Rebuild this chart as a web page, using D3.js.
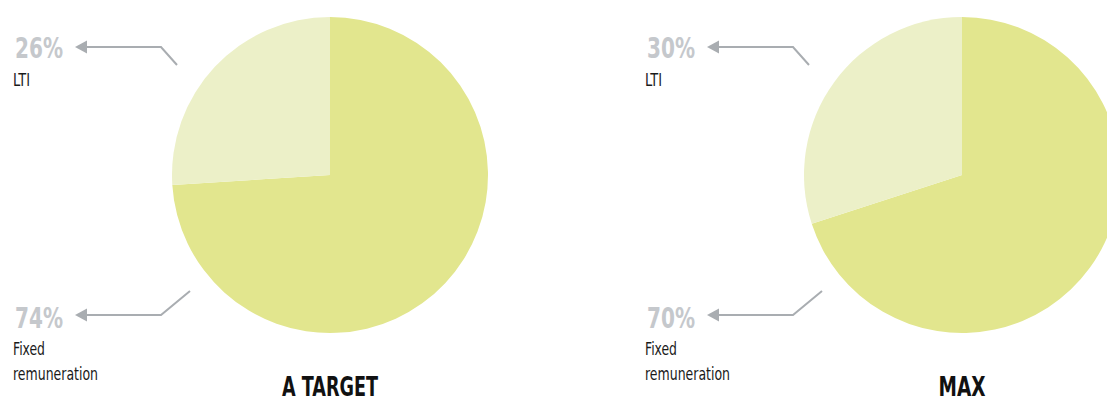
<!DOCTYPE html>
<html>
<head>
<meta charset="utf-8">
<script src="https://cdn.jsdelivr.net/npm/d3@7"></script>
<style>
  html, body { margin: 0; padding: 0; background: #ffffff; }
  svg { display: block; }
  text { font-family: "DejaVu Sans Condensed", "DejaVu Sans", sans-serif; font-stretch: condensed; }
</style>
</head>
<body>
<svg id="chart" width="1107" height="401"></svg>
<script>
// Remuneration mix per scenario
const scenarios = ["A TARGET", "MAX"];
const components = ["Fixed remuneration", "LTI"];
const fixedShare = [74, 70];
const ltiShare = [26, 30];
const fixedLabel = ["Fixed", "remuneration"];
const ltiLabel = ["LTI"];

const svg = d3.select("#chart");

const colour = d3.scaleOrdinal()
  .domain(components)
  .range(["#e2e68e", "#ecf0c8"]);

// One panel per scenario, laid out left to right
const panelX = d3.scalePoint().domain(scenarios).range([0, 632]);

const R = 158;
const pie = d3.pie().sort(null).value(d => d.value).startAngle(0).endAngle(2 * Math.PI);
const arc = d3.arc().innerRadius(0).outerRadius(R);

const lineCol = "#a9adb1";
const pctCol = "#c5c8cc";

// squeeze a text to a set width so the narrow lettering holds
function fit(sel, w) {
  return sel.attr("textLength", w).attr("lengthAdjust", "spacingAndGlyphs");
}

const titleWidth = { "A TARGET": 96, "MAX": 47 };
const wordWidth = { "LTI": 17, "Fixed": 32, "remuneration": 85 };

scenarios.forEach((name, i) => {
  const g = svg.append("g").attr("transform", `translate(${panelX(name)},0)`);
  const data = [
    { key: components[0], value: fixedShare[i] },
    { key: components[1], value: ltiShare[i] }
  ];

  // pie
  const pg = g.append("g").attr("transform", "translate(330,175)");
  pg.selectAll("path")
    .data(pie(data))
    .join("path")
    .attr("d", arc)
    .attr("fill", d => colour(d.data.key));

  // title
  fit(g.append("text")
    .attr("x", 330 - titleWidth[name] / 2).attr("y", 396)
    .attr("font-size", 27)
    .attr("font-weight", "bold")
    .attr("fill", "#111")
    .text(name), titleWidth[name]);

  const callouts = [
    { pct: ltiShare[i], lines: ltiLabel, y: 47, end: [177, 65], pctY: 58, labelY: 86 },
    { pct: fixedShare[i], lines: fixedLabel, y: 315, end: [190, 291], pctY: 328, labelY: 355 }
  ];

  callouts.forEach(c => {
    fit(g.append("text")
      .attr("x", 15).attr("y", c.pctY)
      .attr("font-size", 29)
      .attr("font-weight", "bold")
      .attr("fill", pctCol)
      .text(c.pct + "%"), 48);

    c.lines.forEach((t, k) => {
      fit(g.append("text")
        .attr("x", 13).attr("y", c.labelY + k * 25)
        .attr("font-size", 17)
        .attr("fill", "#1a1a1a")
        .text(t), wordWidth[t]);
    });

    // leader line with elbow
    g.append("path")
      .attr("d", d3.line()([[84, c.y], [161, c.y], c.end]))
      .attr("fill", "none")
      .attr("stroke", lineCol)
      .attr("stroke-width", 2);

    // arrow head
    g.append("path")
      .attr("d", d3.line()([[75, c.y], [87, c.y - 6.5], [87, c.y + 6.5]]) + "Z")
      .attr("fill", lineCol);
  });
});
</script>
</body>
</html>
